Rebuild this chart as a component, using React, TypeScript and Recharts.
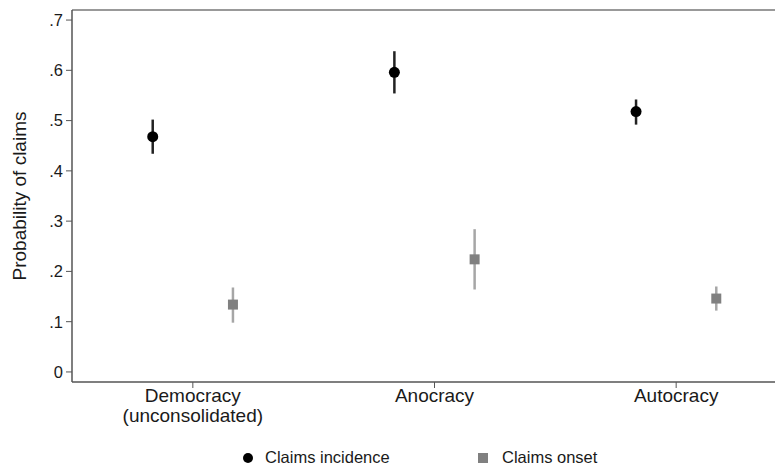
import React from "react";
import { ComposedChart, Scatter, ErrorBar, XAxis, YAxis, Legend } from "recharts";

const categories = ["Democracy\n(unconsolidated)", "Anocracy", "Autocracy"];
const incidence = [0.468, 0.596, 0.518];
const incidenceLo = [0.434, 0.554, 0.492];
const incidenceHi = [0.502, 0.638, 0.542];
const onset = [0.134, 0.224, 0.146];
const onsetLo = [0.098, 0.164, 0.122];
const onsetHi = [0.168, 0.284, 0.17];
const yTicks = [0, 0.1, 0.2, 0.3, 0.4, 0.5, 0.6, 0.7];

const OFFSET = 0.166;
const Y_MAX = 0.72;
const FONT = "'Liberation Sans', Arial, sans-serif";

const incData = incidence.map((v, i) => ({ x: i + 1 - OFFSET, y: v, err: [v - incidenceLo[i], incidenceHi[i] - v] }));
const onsData = onset.map((v, i) => ({ x: i + 1 + OFFSET, y: v, err: [v - onsetLo[i], onsetHi[i] - v] }));

const fmtY = (v: number) => (v === 0 ? "0" : v.toFixed(1).replace(/^0/, ""));

const XTick = (props: any) => {
  const { x, y, payload } = props;
  const lines = categories[Math.round(payload.value) - 1].split("\n");
  return (
    <text x={x} y={y - 3} textAnchor="middle" fontSize={19} fill="#1a1a1a" fontFamily={FONT}>
      {lines.map((l, i) => (
        <tspan key={i} x={x} dy={i === 0 ? 15 : 20}>{l}</tspan>
      ))}
    </text>
  );
};

const LegendBox = () => (
  <div style={{ position: "relative", height: 20, fontFamily: FONT, fontSize: 16.5, color: "#1a1a1a" }}>
    <span style={{ position: "absolute", left: 235, top: 5, width: 10, height: 10, borderRadius: 5, background: "#000" }} />
    <span style={{ position: "absolute", left: 257, top: 0 }}>Claims incidence</span>
    <span style={{ position: "absolute", left: 470, top: 5, width: 10, height: 10, background: "#808080" }} />
    <span style={{ position: "absolute", left: 494, top: 0 }}>Claims onset</span>
  </div>
);

export default function App() {
  return (
    <div style={{ width: 775, overflow: "hidden", position: "relative" }}>
      <div style={{ position: "absolute", top: 1, left: 64, right: 0, borderTop: "2px solid #999" }} />
      <ComposedChart width={800} height={464} margin={{ top: 2, right: 11, bottom: 0, left: 0 }}>
        <XAxis
          type="number"
          dataKey="x"
          domain={[0.5, 3.5]}
          ticks={[1, 2, 3]}
          allowDataOverflow
          tick={<XTick />}
          tickSize={6}
          height={70}
          stroke="#555"
          axisLine={{ stroke: "#555", strokeWidth: 1.5 }}
        />
        <YAxis
          type="number"
          dataKey="y"
          domain={[-0.02, Y_MAX]}
          ticks={yTicks}
          tickFormatter={fmtY}
          allowDataOverflow
          width={64}
          tickSize={6}
          tickMargin={3}
          stroke="#555"
          axisLine={{ stroke: "#555", strokeWidth: 1.5 }}
          tick={{ fontSize: 16.5, fill: "#1a1a1a", fontFamily: FONT }}
          label={{ value: "Probability of claims", angle: -90, position: "center", dx: -21, fontSize: 19, fill: "#1a1a1a", fontFamily: FONT }}
        />
        <Legend verticalAlign="bottom" content={<LegendBox />} wrapperStyle={{ left: 0, bottom: 4, width: 775 }} />
        <Scatter
          data={incData}
          isAnimationActive={false}
          shape={(p: any) => <circle cx={p.cx} cy={p.cy} r={5.5} fill="#000" />}
        >
          <ErrorBar dataKey="err" direction="y" width={0} stroke="#222" strokeWidth={2.5} />
        </Scatter>
        <Scatter
          data={onsData}
          isAnimationActive={false}
          shape={(p: any) => <rect x={p.cx - 5} y={p.cy - 5} width={10} height={10} fill="#808080" />}
        >
          <ErrorBar dataKey="err" direction="y" width={0} stroke="#a6a6a6" strokeWidth={2.5} />
        </Scatter>
      </ComposedChart>
    </div>
  );
}
